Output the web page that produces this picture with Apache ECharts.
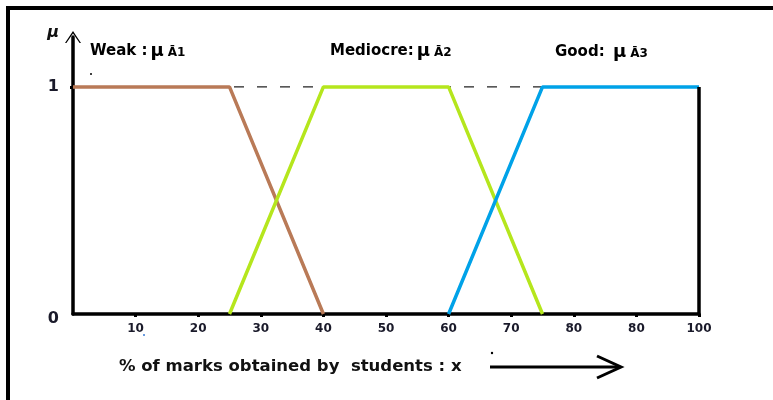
<!DOCTYPE html>
<html>
<head>
<meta charset="utf-8">
<script src="https://cdn.jsdelivr.net/npm/echarts@6/dist/echarts.min.js"></script>
<style>
html,body{margin:0;padding:0;background:#fff;}
#chart{width:773px;height:400px;}
</style>
</head>
<body>
<div id="chart"></div>
<script>
// ---- data ----
var weakX = [0, 25, 40];
var weakY = [1, 1, 0];
var medX = [25, 40, 60, 75];
var medY = [0, 1, 1, 0];
var goodX = [60, 75, 100];
var goodY = [0, 1, 1];
var refX = [0, 100];
var refY = [1, 1];
var boundX = [100, 100];
var boundY = [0, 1];
var xTickValues = [10, 20, 30, 40, 50, 60, 70, 80, 90, 100];
var xTickLabels = ['10', '20', '30', '40', '50', '60', '70', '80', '80', '100'];
var yTickValues = [0, 1];
var yTickLabels = ['0', '1'];

function pairs(xs, ys) { return xs.map(function (x, i) { return [x, ys[i]]; }); }

var FONT = '"DejaVu Sans", sans-serif';
var chart = echarts.init(document.getElementById('chart'));

function lbl(name, sub) {
  return '{a|' + name + '}{m|μ}{s|' + sub + '}';
}
var rich = {
  a: { fontFamily: FONT, fontWeight: 'bold', fontSize: 15, color: '#111' },
  m: { fontFamily: FONT, fontWeight: 'bold', fontSize: 18, color: '#111', padding: [0, 4, 0, 3] },
  s: { fontFamily: FONT, fontWeight: 'bold', fontSize: 12, color: '#111', padding: [4, 0, 0, 0] }
};

chart.setOption({
  animation: false,
  backgroundColor: '#fff',
  grid: { left: 73, right: 74, top: 37, bottom: 86 },
  xAxis: {
    type: 'value', min: 0, max: 100,
    splitLine: { show: false },
    axisLine: { lineStyle: { color: '#000', width: 3.5 } },
    axisTick: { customValues: xTickValues, length: 3, lineStyle: { color: '#000', width: 3 } },
    axisLabel: {
      customValues: xTickValues,
      margin: 9,
      fontFamily: FONT, fontWeight: 'bold', fontSize: 12, color: '#1a1a2a',
      formatter: function (v) { return xTickLabels[xTickValues.indexOf(v)]; }
    }
  },
  yAxis: {
    type: 'value', min: 0, max: 1.22,
    name: 'μ', nameLocation: 'end', nameGap: 4,
    nameTextStyle: { fontFamily: FONT, fontWeight: 'bold', fontStyle: 'italic', fontSize: 16, color: '#111', align: 'right', verticalAlign: 'middle', padding: [0, 14, 0, 0] },
    splitLine: { show: false },
    axisLine: {
      lineStyle: { color: '#000', width: 3.5 },
      symbol: ['none', 'path://M0,12 L8,0 L16,12 L14.6,12 L8,2.6 L1.4,12 Z'],
      symbolSize: [16, 12]
    },
    axisTick: { customValues: [1], length: 3, lineStyle: { color: '#000', width: 3 } },
    axisLabel: {
      customValues: yTickValues,
      margin: 14,
      fontFamily: FONT, fontWeight: 'bold', fontSize: 16, color: '#1a1a2a',
      formatter: function (v) {
        var t = yTickLabels[yTickValues.indexOf(v)];
        return v === 0 ? '{z|' + t + '}' : t;
      },
      rich: { z: { fontFamily: FONT, fontWeight: 'bold', fontSize: 16, color: '#1a1a2a', padding: [10, 0, 0, 0] } }
    }
  },
  series: [
    { type: 'line', data: pairs(refX, refY), symbol: 'none', silent: true, z: 1,
      lineStyle: { color: '#222', width: 1.2, type: [10, 13] } },
    { type: 'line', data: pairs(boundX, boundY), symbol: 'none', silent: true, z: 3,
      lineStyle: { color: '#000', width: 3.5 } },
    { type: 'line', name: 'Weak', data: pairs(weakX, weakY), symbol: 'none', z: 2,
      lineStyle: { color: '#b97a57', width: 3.5 } },
    { type: 'line', name: 'Mediocre', data: pairs(medX, medY), symbol: 'none', z: 2,
      lineStyle: { color: '#b5e61d', width: 3.5 } },
    { type: 'line', name: 'Good', data: pairs(goodX, goodY), symbol: 'none', z: 2,
      lineStyle: { color: '#00a2e8', width: 3.5 } }
  ],
  graphic: [
    { type: 'line', shape: { x1: 6, y1: 8, x2: 773, y2: 8 }, style: { stroke: '#000', lineWidth: 4 } },
    { type: 'line', shape: { x1: 8, y1: 6, x2: 8, y2: 400 }, style: { stroke: '#000', lineWidth: 4 } },
    { type: 'text', left: 90, top: 42, style: { text: lbl('Weak :', 'Ā1'), rich: rich } },
    { type: 'text', left: 330, top: 42, style: { text: lbl('Mediocre:', 'Ā2'), rich: rich } },
    { type: 'text', left: 555, top: 43, style: { text: lbl('Good: ', 'Ā3'), rich: rich } },
    { type: 'text', left: 119, top: 358, style: { text: '% of marks obtained by  students : x', fontFamily: FONT, fontWeight: 'bold', fontSize: 16.5, fill: '#111' } },
    { type: 'line', shape: { x1: 490, y1: 367, x2: 620, y2: 367 }, style: { stroke: '#000', lineWidth: 3 } },
    { type: 'polyline', shape: { points: [[597, 356], [621, 367], [597, 378]] }, style: { stroke: '#000', lineWidth: 3, fill: null } },
    { type: 'circle', shape: { cx: 91, cy: 74, r: 1 }, style: { fill: '#000' } },
    { type: 'circle', shape: { cx: 144, cy: 335, r: 1 }, style: { fill: '#3a7bd5' } },
    { type: 'circle', shape: { cx: 492, cy: 353, r: 1.2 }, style: { fill: '#000' } }
  ]
});
</script>
</body>
</html>
